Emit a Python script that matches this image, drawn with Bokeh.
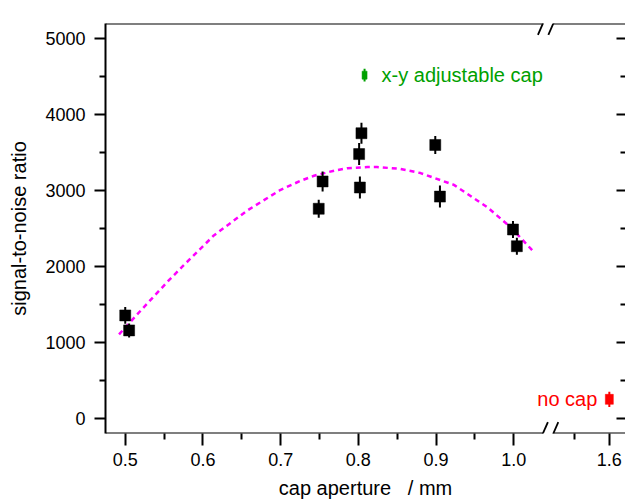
from bokeh.plotting import figure
from bokeh.models import (Range1d, FixedTicker, LinearAxis, CustomJSTickFormatter,
                          Arrow, ColumnDataSource)
from bokeh.core.properties import value
from bokeh.embed import file_html
from bokeh.resources import INLINE

# ---------------- data ----------------
aperture = [0.500, 0.505, 0.749, 0.754, 0.801, 0.804, 0.802, 0.899, 0.905, 0.999, 1.004]
snr      = [1355, 1158, 2760, 3120, 3480, 3755, 3040, 3600, 2920, 2487, 2267]
snr_err  = [110, 92, 118, 132, 145, 138, 145, 118, 145, 112, 112]

fit_aperture = [0.492, 0.520, 0.556, 0.575, 0.614, 0.657, 0.700, 0.726, 0.743, 0.769,
                0.786, 0.812, 0.824, 0.854, 0.880, 0.923, 0.966, 0.996, 1.024]
fit_snr      = [1105, 1420, 1816, 2013, 2408, 2737, 3010, 3130, 3195, 3262,
                3295, 3310, 3310, 3285, 3230, 3075, 2780, 2517, 2211]

xy_cap_aperture = [0.808]
xy_cap_snr = [4520]
xy_cap_err = [85]
xy_cap_label = ["x-y adjustable cap"]

nocap_aperture = [1.6]
nocap_snr = [250]
nocap_err = [100]
nocap_label = ["no cap"]

x_major_ticks = [0.5, 0.6, 0.7, 0.8, 0.9, 1.0, 1.6]
x_minor_ticks = [0.55, 0.65, 0.75, 0.85, 0.95, 1.55]
y_major_ticks = [0, 1000, 2000, 3000, 4000, 5000]
y_minor_ticks = [500, 1500, 2500, 3500, 4500]

x_title = "cap aperture \u00a0 / mm"
y_title = "signal-to-noise ratio"

# ---------------- broken x axis mapping ----------------
SEG2_VALUE = 1.6      # value shown right of the break
SEG2_POS = 1.123      # where it sits on the drawing axis
SEG2_SCALE = 0.9
BREAK_L, BREAK_R = 1.0375, 1.0509

def to_axis(v):
    return v if v < 1.3 else SEG2_POS + (v - SEG2_VALUE) * SEG2_SCALE

FONT = "Liberation Sans"
X0, X1 = 0.4746, 1.1438
Y0, Y1 = -200, 5200

p = figure(width=625, height=501, output_backend="svg", toolbar_location=None,
           x_range=Range1d(X0, X1), y_range=Range1d(Y0, Y1),
           min_border_left=105, min_border_top=23, min_border_right=0,
           min_border_bottom=68)
p.background_fill_color = "white"
p.border_fill_color = "white"
p.outline_line_color = None
p.xgrid.visible = False
p.ygrid.visible = False

# x axis
xa = p.xaxis[0]
xa.ticker = FixedTicker(ticks=[to_axis(v) for v in x_major_ticks],
                        minor_ticks=[to_axis(v) for v in x_minor_ticks])
xa.formatter = CustomJSTickFormatter(
    args=dict(brk=1.06, v2=SEG2_VALUE, p2=SEG2_POS, k=SEG2_SCALE),
    code="if (tick > brk) { return (v2 + (tick - p2) / k).toFixed(1); } return tick.toFixed(1);")
xa.axis_label = x_title
xa.axis_line_color = None
xa.major_tick_out = 12
xa.major_tick_in = 0
xa.minor_tick_out = 6
xa.minor_tick_in = 0
xa.major_tick_line_width = 2
xa.minor_tick_line_width = 2
xa.major_label_standoff = 7
xa.axis_label_standoff = 8
xa.axis_label_text_line_height = 1.0

# y axis left
ya = p.yaxis[0]
ya.ticker = FixedTicker(ticks=y_major_ticks, minor_ticks=y_minor_ticks)
ya.axis_label = y_title
ya.axis_line_width = 2
ya.major_tick_out = 11
ya.major_tick_in = 0
ya.minor_tick_out = 6
ya.minor_tick_in = 0
ya.major_tick_line_width = 2
ya.minor_tick_line_width = 2
ya.major_label_standoff = 9
ya.axis_label_standoff = 12

for ax in [xa, ya]:
    ax.major_label_text_font = FONT
    ax.major_label_text_font_size = "18px"
    ax.major_label_text_color = "black"
    ax.axis_label_text_font = FONT
    ax.axis_label_text_font_size = "20px"
    ax.axis_label_text_font_style = "normal"
    ax.axis_label_text_color = "black"

# y axis right: inward ticks only
yr = LinearAxis(ticker=FixedTicker(ticks=y_major_ticks, minor_ticks=y_minor_ticks),
                formatter=CustomJSTickFormatter(code="return '';"))
yr.axis_line_color = None
yr.major_tick_out = 0
yr.major_tick_in = 9
yr.minor_tick_out = 0
yr.minor_tick_in = 5
yr.major_tick_line_width = 2
yr.minor_tick_line_width = 2
yr.major_label_text_font_size = "0px"
yr.major_label_standoff = 0
p.add_layout(yr, "right")

# frame lines with the axis break (top and bottom)
for yy in (Y0, Y1):
    p.add_layout(Arrow(end=None, x_start=X0, y_start=yy, x_end=BREAK_L, y_end=yy,
                       line_width=2, line_color="black"))
    p.add_layout(Arrow(end=None, x_start=BREAK_R, y_start=yy, x_end=X1, y_end=yy,
                       line_width=2, line_color="black"))
    for cx in (BREAK_L, BREAK_R):
        p.add_layout(Arrow(end=None, x_start=cx - 0.0064, y_start=yy - 150,
                           x_end=cx + 0.0064, y_end=yy + 150,
                           line_width=1.8, line_color="black"))

# fit curve
p.line(fit_aperture, fit_snr, line_color="#FF00FF", line_width=2.5, line_dash="5 4")

# black data with error bars
src = ColumnDataSource(dict(x=aperture, y=snr,
                            lo=[s - e for s, e in zip(snr, snr_err)],
                            hi=[s + e for s, e in zip(snr, snr_err)]))
p.segment(x0="x", y0="lo", x1="x", y1="hi", source=src, line_color="black", line_width=2)
p.rect(x="x", y="y", width=11, height=11, width_units="screen", height_units="screen",
       source=src, fill_color="black", line_color="black", line_width=0.5)

# x-y adjustable cap (green)
gx = [to_axis(v) for v in xy_cap_aperture]
p.segment(gx, [s - e for s, e in zip(xy_cap_snr, xy_cap_err)],
          gx, [s + e for s, e in zip(xy_cap_snr, xy_cap_err)],
          line_color="#00A000", line_width=2)
p.rect(gx, xy_cap_snr, width=5, height=8, width_units="screen", height_units="screen",
       fill_color="#00A000", line_color="#00A000", line_width=0.5)
p.text(gx, xy_cap_snr, text=xy_cap_label, x_offset=17, text_baseline="middle",
       text_align="left", text_color="#00A000", text_font=value(FONT),
       text_font_size=value("20px"))

# no cap (red)
rx = [to_axis(v) for v in nocap_aperture]
p.segment(rx, [s - e for s, e in zip(nocap_snr, nocap_err)],
          rx, [s + e for s, e in zip(nocap_snr, nocap_err)],
          line_color="#FF0000", line_width=2)
p.rect(rx, nocap_snr, width=8, height=10, width_units="screen", height_units="screen",
       fill_color="#FF0000", line_color="#FF0000", line_width=0.5)
p.text(rx, nocap_snr, text=nocap_label, x_offset=-12, text_baseline="middle",
       text_align="right", text_color="#FF0000", text_font=value(FONT),
       text_font_size=value("20px"))

open("out.html", "w").write(file_html(p, INLINE))
